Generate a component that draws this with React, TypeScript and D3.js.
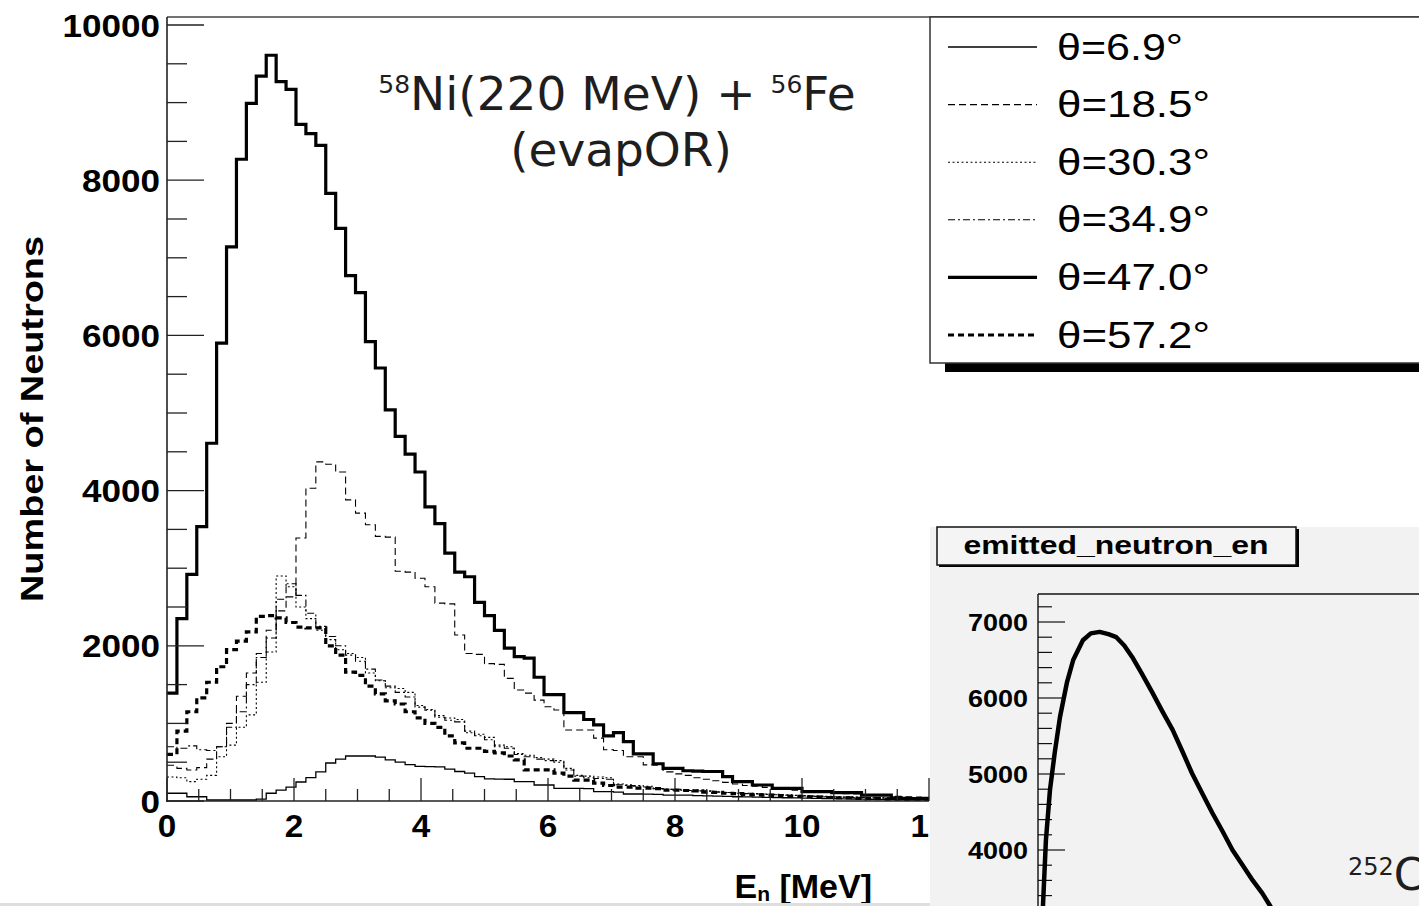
import React from "react";
import * as d3 from "d3";

// ---------------- data ----------------
const BIN_WIDTH = 0.15625; // MeV
const X_TICKS_MAJOR = [0, 2, 4, 6, 8, 10, 12];
const Y_TICKS_MAJOR = [0, 2000, 4000, 6000, 8000, 10000];

const S_69 = [100,100,55,55,13,13,13,13,13,25,
  100,140,180,245,300,375,490,540,580,580,
  580,565,530,500,470,445,442,440,410,380,
  360,315,285,283,280,250,250,206,206,163,
  163,163,160,120,120,115,90,90,88,85,
  77,77,75,70,65,62,60,55,52,50,
  48,45,42,40,38,35,32,30,28,26,
  24,22,20,18,16,15,14];
const S_185 = [460,420,400,430,540,700,1000,1350,1650,1900,
  2200,2450,2630,3390,4030,4370,4340,4240,3880,3710,
  3560,3410,3400,2960,2950,2870,2760,2550,2540,2140,
  1900,1890,1770,1760,1580,1430,1390,1300,1215,1173,
  915,915,915,810,660,650,570,570,465,460,
  375,350,330,300,280,260,240,220,200,190,
  175,160,150,140,130,120,110,100,95,90,
  80,75,70,60,55,50,45];
const S_303 = [310,300,250,280,330,570,720,950,1110,1530,
  1920,2900,2760,2500,2350,2200,2080,1950,1900,1850,
  1650,1550,1460,1450,1400,1230,1180,1100,1070,1050,
  880,860,820,720,700,610,590,560,540,520,
  420,330,320,310,300,220,210,200,190,160,
  150,150,140,140,130,120,110,105,100,95,
  90,85,80,75,70,65,60,55,50,50,
  45,40,40,35,35,30,30];
const S_349 = [700,680,710,660,650,700,950,1150,1500,1850,
  2100,2600,2800,2650,2420,2250,2120,2000,1880,1800,
  1700,1560,1480,1400,1340,1210,1170,1080,1040,1020,
  900,840,790,700,680,600,570,540,520,500,
  400,320,300,290,280,210,200,190,180,160,
  150,140,135,130,125,115,110,100,95,90,
  85,80,75,70,65,60,55,50,50,45,
  45,40,40,35,30,30,25];
const S_470 = [1390,2350,2920,3535,4610,5900,7140,8270,8990,9340,
  9610,9270,9170,8720,8600,8450,7830,7380,6770,6550,
  5920,5580,5040,4700,4470,4240,3790,3575,3195,2950,
  2890,2560,2390,2200,1970,1860,1840,1595,1370,1370,
  1140,1140,1050,980,840,880,765,606,606,480,
  420,420,390,385,380,380,313,250,250,206,
  206,163,163,163,120,120,120,107,107,107,
  77,77,77,40,35,30,35];
const S_572 = [600,900,1150,1330,1530,1730,1950,2060,2180,2380,
  2390,2360,2300,2240,2230,2230,2000,1880,1660,1620,
  1480,1380,1290,1250,1150,1070,1000,950,840,750,
  680,680,640,620,580,530,400,400,400,360,
  320,270,270,230,200,180,180,165,165,160,
  140,140,135,130,115,110,100,95,85,80,
  75,70,60,60,55,50,45,40,40,35,
  30,30,25,25,20,20,20];

const LEGEND_LABELS = ["θ=6.9°", "θ=18.5°", "θ=30.3°", "θ=34.9°", "θ=47.0°", "θ=57.2°"];

// inset (252Cf emitted neutron energy)
const INSET_E = [0.04,0.057,0.09,0.136,0.19,0.25,0.33,0.40,0.51,0.60,0.70,0.80,0.89,0.98,1.07,1.18,1.30,1.41,1.53,1.64,1.75,1.86,1.98,2.10,2.21,2.32,2.44,2.55,2.63,2.75];
const INSET_N = [2900,3280,4130,4790,5280,5750,6210,6500,6760,6850,6870,6840,6800,6690,6540,6320,6070,5830,5580,5300,5010,4760,4490,4240,4000,3810,3600,3430,3280,3050];
const INSET_Y_MAJOR = [4000, 5000, 6000, 7000];

// ---------------- styles ----------------
const SERIES = [
  { values: S_69, width: 1.3, dash: "" },
  { values: S_185, width: 1.1, dash: "7,4" },
  { values: S_303, width: 1.1, dash: "2,2.5" },
  { values: S_349, width: 1.1, dash: "7,3,2,3" },
  { values: S_470, width: 3.2, dash: "" },
  { values: S_572, width: 3.2, dash: "6,4" },
];

const BOLD = "'Liberation Sans', Arial, Helvetica, sans-serif";
const DEJAVU = "'DejaVu Sans', sans-serif";

export default function App() {
  const x = d3.scaleLinear().domain([0, 12]).range([167, 929]);
  const y = d3.scaleLinear().domain([0, 10000]).range([801, 25]);

  const stepLine = d3
    .line<[number, number]>()
    .x((d) => x(d[0]))
    .y((d) => y(d[1]))
    .curve(d3.curveStepAfter);

  const histPath = (vals: number[]) => {
    const pts: [number, number][] = vals.map((v, i) => [i * BIN_WIDTH, v]);
    pts.push([vals.length * BIN_WIDTH, vals[vals.length - 1]]);
    return stepLine(pts) || "";
  };

  const yMinor = d3.range(0, 10001, 500);
  const xMinor = d3.range(0, 12.01, 0.5);

  // inset scales
  const ix = d3.scaleLinear().domain([0, 4]).range([1038, 1390]);
  const iy = d3.scaleLinear().domain([4000, 7000]).range([850, 622]);
  const insetLine = d3
    .line<number>()
    .x((_, i) => ix(INSET_E[i]))
    .y((d) => iy(d))
    .curve(d3.curveLinear);
  const insetMinor = d3.range(3400, 7201, 200);

  const legendY = (i: number) => 47 + i * 57.6;

  return (
    <svg
      width={1419}
      height={906}
      style={{ position: "absolute", left: 0, top: 0, background: "#fff" }}
    >
      <defs>
        <clipPath id="plotClip">
          <rect x={167} y={17} width={762} height={784} />
        </clipPath>
        <clipPath id="insetClip">
          <rect x={1038} y={594} width={381} height={312} />
        </clipPath>
      </defs>
      <rect x={0} y={0} width={1419} height={906} fill="#fff" />

      {/* histograms */}
      <g clipPath="url(#plotClip)">
        {SERIES.map((s, i) => (
          <path
            key={i}
            d={histPath(s.values)}
            fill="none"
            stroke="#000"
            strokeWidth={s.width}
            strokeDasharray={s.dash || undefined}
            strokeLinejoin="miter"
          />
        ))}
      </g>

      {/* frame / axes */}
      <line x1={167} y1={17} x2={1419} y2={17} stroke="#444" strokeWidth={1.5} />
      <line x1={167} y1={17} x2={167} y2={802} stroke="#222" strokeWidth={1.6} />
      <line x1={166} y1={801} x2={929} y2={801} stroke="#222" strokeWidth={1.6} />

      {yMinor.map((v) => (
        <line
          key={"ym" + v}
          x1={167}
          x2={v % 2000 === 0 ? 204 : 187}
          y1={y(v)}
          y2={y(v)}
          stroke="#222"
          strokeWidth={1.3}
        />
      ))}
      {xMinor.map((v) => (
        <line
          key={"xm" + v}
          x1={x(v)}
          x2={x(v)}
          y1={801}
          y2={v % 2 === 0 ? 778 : 789}
          stroke="#222"
          strokeWidth={1.3}
        />
      ))}

      {Y_TICKS_MAJOR.map((v) => {
        const t = String(v);
        return (
          <text
            key={"yl" + v}
            x={160}
            y={y(v) + 11.5}
            textAnchor="end"
            fontFamily={BOLD}
            fontWeight="bold"
            fontSize={32}
            textLength={t.length * 19.5}
            lengthAdjust="spacingAndGlyphs"
          >
            {t}
          </text>
        );
      })}
      {X_TICKS_MAJOR.map((v) => {
        const t = String(v);
        return (
          <text
            key={"xl" + v}
            x={x(v)}
            y={837}
            textAnchor="middle"
            fontFamily={BOLD}
            fontWeight="bold"
            fontSize={32}
            textLength={t.length * 18.5}
            lengthAdjust="spacingAndGlyphs"
          >
            {t}
          </text>
        );
      })}

      {/* axis titles */}
      <text
        transform="translate(43,419) rotate(-90)"
        textAnchor="middle"
        fontFamily={BOLD}
        fontWeight="bold"
        fontSize={31}
        textLength={366}
        lengthAdjust="spacingAndGlyphs"
      >
        Number of Neutrons
      </text>
      <text x={872} y={898} textAnchor="end" fontFamily={BOLD} fontWeight="bold" fontSize={34}>
        E<tspan fontSize={21} dy={3}>n</tspan>
        <tspan dy={-3}> [MeV]</tspan>
      </text>

      {/* annotation */}
      <text x={617} y={110} textAnchor="middle" fontFamily={DEJAVU} fontSize={47} fill="#1e1e1e">
        <tspan fontSize={25} dy={-17}>58</tspan>
        <tspan dy={17}>Ni(220 MeV) + </tspan>
        <tspan fontSize={25} dy={-17}>56</tspan>
        <tspan dy={17}>Fe</tspan>
      </text>
      <text x={621} y={166} textAnchor="middle" fontFamily={DEJAVU} fontSize={47} fill="#1e1e1e">
        (evapOR)
      </text>

      {/* legend */}
      <rect x={945} y={363} width={480} height={9} fill="#000" />
      <rect x={930} y={17} width={495} height={346} fill="#fff" stroke="#333" strokeWidth={1.5} />
      {SERIES.map((s, i) => (
        <g key={"lg" + i}>
          <line
            x1={948}
            x2={1037}
            y1={legendY(i)}
            y2={legendY(i)}
            stroke="#000"
            strokeWidth={s.width}
            strokeDasharray={s.dash || undefined}
          />
          <text
            x={1057}
            y={legendY(i) + 12.5}
            fontFamily="'Liberation Sans', Arial, sans-serif"
            fontSize={36}
            textLength={LEGEND_LABELS[i].length === 6 ? 126 : 153}
            lengthAdjust="spacingAndGlyphs"
          >
            {LEGEND_LABELS[i]}
          </text>
        </g>
      ))}

      {/* bottom gray strip */}
      <rect x={0} y={903} width={930} height={3} fill="#dedede" />

      {/* inset */}
      <rect x={930} y={527} width={489} height={379} fill="#f2f2f2" />
      <rect x={939} y={529} width={360} height={38} fill="#000" />
      <rect x={937} y={527} width={359} height={38} fill="#f4f4f4" stroke="#111" strokeWidth={1.5} />
      <text
        x={1116}
        y={554}
        textAnchor="middle"
        fontFamily={BOLD}
        fontWeight="bold"
        fontSize={26}
        textLength={305}
        lengthAdjust="spacingAndGlyphs"
      >
        emitted_neutron_en
      </text>
      <line x1={1038} y1={594} x2={1419} y2={594} stroke="#111" strokeWidth={1.4} />
      <line x1={1038} y1={594} x2={1038} y2={906} stroke="#111" strokeWidth={1.4} />
      {insetMinor.map((v) => (
        <line
          key={"im" + v}
          x1={1038}
          x2={v % 1000 === 0 ? 1065 : 1052}
          y1={iy(v)}
          y2={iy(v)}
          stroke="#111"
          strokeWidth={1.2}
        />
      ))}
      {INSET_Y_MAJOR.map((v) => {
        const t = String(v);
        return (
          <text
            key={"il" + v}
            x={1028}
            y={iy(v) + 9}
            textAnchor="end"
            fontFamily={BOLD}
            fontWeight="bold"
            fontSize={24}
            textLength={60}
            lengthAdjust="spacingAndGlyphs"
          >
            {t}
          </text>
        );
      })}
      <g clipPath="url(#insetClip)">
        <path d={insetLine(INSET_N) || ""} fill="none" stroke="#000" strokeWidth={4.5} strokeLinejoin="round" />
      </g>
      <text x={1348} y={890} fontFamily={DEJAVU} fontSize={44} fill="#1e1e1e">
        <tspan fontSize={24} dy={-15}>252</tspan>
        <tspan dy={15}>Cf</tspan>
      </text>
    </svg>
  );
}
